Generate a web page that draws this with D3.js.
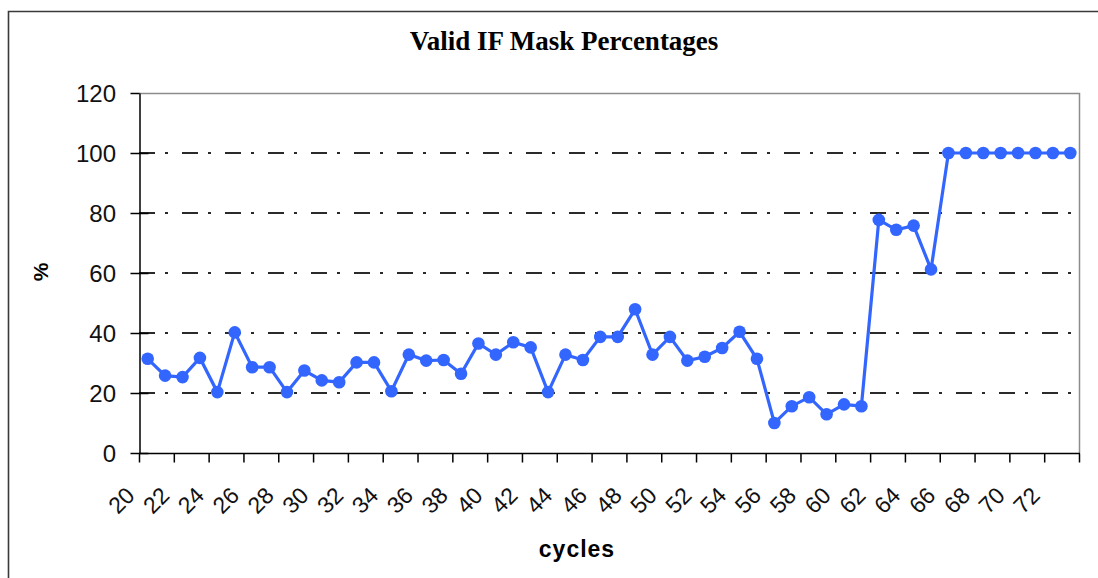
<!DOCTYPE html>
<html>
<head>
<meta charset="utf-8">
<script src="https://cdn.jsdelivr.net/npm/d3@7"></script>
<style>
  body { margin: 0; background: #fff; }
  svg { display: block; }
</style>
</head>
<body>
<svg class="svgClass" width="1098" height="578"></svg>
<script>
// data
var cycles = d3.range(20, 74);   // categories 20..73
var maskPct = [31.4, 25.8, 25.3, 31.7, 20.3, 40.2, 28.6, 28.6, 20.3, 27.5,
               24.2, 23.6, 30.2, 30.2, 20.6, 32.8, 30.8, 31.0, 26.4, 36.5,
               32.8, 36.9, 35.2, 20.3, 32.8, 31.0, 38.7, 38.7, 47.9, 32.8,
               38.7, 30.8, 32.1, 35.0, 40.4, 31.4, 10.0, 15.6, 18.6, 12.9,
               16.2, 15.6, 77.7, 74.4, 75.8, 61.2, 100, 100, 100, 100,
               100, 100, 100, 100];
var yTicks = [0, 20, 40, 60, 80, 100, 120];
var xLabels = cycles.filter(function(c) { return c % 2 == 0; });

var plot = {left: 139, right: 1079, top: 93, bottom: 453};

var svg = d3.select('.svgClass');

// outer chart border
svg.append('path')
    .attr('d', 'M8.5,600 L8.5,11.5 L1110,11.5')
    .attr('fill', 'none')
    .attr('stroke', '#3a3a3a')
    .attr('stroke-width', 1.6);

var xScale = d3.scaleBand()
    .domain(cycles)
    .range([plot.left, plot.right]);

var yScale = d3.scaleLinear()
    .domain([0, 120])
    .range([plot.bottom, plot.top]);

var cx = function(c) { return xScale(c) + xScale.bandwidth() / 2; };

// plot area frame (top + right, gray)
svg.append('path')
    .attr('d', 'M' + plot.left + ',' + (yScale(120) + 0.5) + ' L' + (plot.right + 0.5) + ',' + (yScale(120) + 0.5) + ' L' + (plot.right + 0.5) + ',' + plot.bottom)
    .attr('fill', 'none')
    .attr('stroke', '#8c8c8c')
    .attr('stroke-width', 1.5);

// dash-dot grid lines
svg.append('g')
    .selectAll('line')
    .data(yTicks.filter(function(v) { return v > 0 && v < 120; }))
    .join('line')
    .attr('x1', plot.left)
    .attr('x2', plot.right)
    .attr('y1', function(d) { return yScale(d); })
    .attr('y2', function(d) { return yScale(d); })
    .attr('stroke', '#2a2a2a')
    .attr('stroke-width', 2)
    .attr('stroke-dasharray', '16,10,3,14');

// y axis
var yAxis = d3.axisLeft(yScale)
    .tickValues(yTicks)
    .tickSize(0)
    .tickFormat('');
var gy = svg.append('g')
    .attr('transform', 'translate(' + (plot.left + 0.5) + ',0)')
    .call(yAxis);
gy.select('.domain').attr('stroke', '#000').attr('stroke-width', 1.5);
gy.selectAll('.tick line').remove();
gy.selectAll('.tick').append('line')
    .attr('x1', -9).attr('x2', 9)
    .attr('stroke', '#000').attr('stroke-width', 1.5);
gy.selectAll('.tick').filter(function(d) { return d == 120; }).select('line').attr('x2', 0);

svg.append('g')
    .selectAll('text')
    .data(yTicks)
    .join('text')
    .attr('x', 116)
    .attr('y', function(d) { return yScale(d) + 9; })
    .attr('text-anchor', 'end')
    .style('font-family', '"Liberation Sans", Arial, sans-serif')
    .style('font-size', '24px')
    .attr('fill', '#111')
    .text(function(d) { return d; });

// x axis
var gx = svg.append('g')
    .attr('transform', 'translate(0,' + (plot.bottom + 0.5) + ')');
gx.append('line')
    .attr('x1', plot.left).attr('x2', plot.right + 1)
    .attr('stroke', '#000').attr('stroke-width', 1.5);
gx.selectAll('.xtick')
    .data(xLabels.concat([74]))
    .join('line')
    .attr('class', 'xtick')
    .attr('x1', function(d) { return d == 74 ? plot.right + 0.5 : xScale(d) + 0.5; })
    .attr('x2', function(d) { return d == 74 ? plot.right + 0.5 : xScale(d) + 0.5; })
    .attr('y1', 0).attr('y2', 9)
    .attr('stroke', '#000').attr('stroke-width', 1.5);

svg.append('g')
    .selectAll('text')
    .data(xLabels)
    .join('text')
    .attr('transform', function(d) { return 'translate(' + (xScale(d) - 3) + ',497) rotate(-45)'; })
    .attr('text-anchor', 'end')
    .style('font-family', '"Liberation Sans", Arial, sans-serif')
    .style('font-size', '23px')
    .attr('fill', '#111')
    .text(function(d) { return d; });

// series line + markers
svg.append('path')
    .datum(maskPct)
    .attr('fill', 'none')
    .attr('stroke', '#3366ff')
    .attr('stroke-width', 3.2)
    .attr('d', d3.line()
        .x(function(d, i) { return cx(cycles[i]); })
        .y(function(d) { return yScale(d); }));

svg.append('g')
    .selectAll('circle')
    .data(maskPct)
    .join('circle')
    .attr('cx', function(d, i) { return cx(cycles[i]); })
    .attr('cy', function(d) { return yScale(d); })
    .attr('r', 6.3)
    .attr('fill', '#3366ff');

// titles
svg.append('text')
    .attr('x', 564)
    .attr('y', 50)
    .attr('text-anchor', 'middle')
    .style('font-family', '"Liberation Serif", "Times New Roman", serif')
    .style('font-weight', 'bold')
    .style('font-size', '27px')
    .text('Valid IF Mask Percentages');

svg.append('text')
    .attr('transform', 'translate(48,272) rotate(-90)')
    .attr('text-anchor', 'middle')
    .style('font-family', '"Liberation Sans", Arial, sans-serif')
    .style('font-weight', 'bold')
    .style('font-size', '21px')
    .text('%');

svg.append('text')
    .attr('x', 577)
    .attr('y', 557)
    .attr('text-anchor', 'middle')
    .style('font-family', '"Liberation Sans", Arial, sans-serif')
    .style('font-weight', 'bold')
    .style('font-size', '23px')
    .style('letter-spacing', '1px')
    .text('cycles');
</script>
</body>
</html>
